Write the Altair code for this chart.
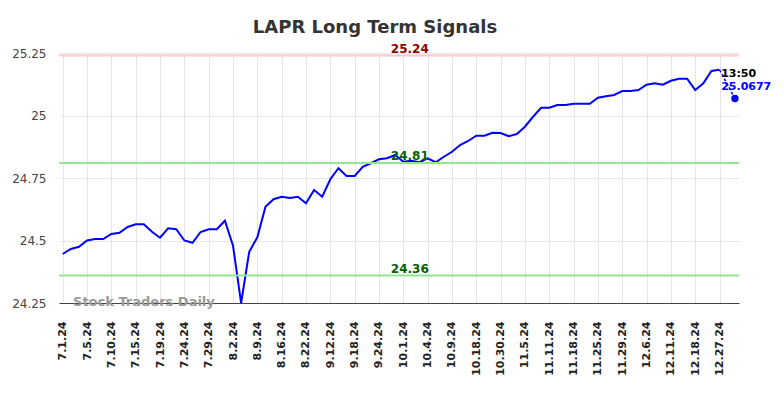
import altair as alt
import pandas as pd

# Daily closing values (trading-day index)
values = [
    24.446, 24.466, 24.475, 24.500, 24.506, 24.506, 24.526, 24.531, 24.554, 24.565,
    24.565, 24.535, 24.511, 24.549, 24.545, 24.500, 24.491, 24.534, 24.545, 24.545,
    24.579, 24.479, 24.250, 24.455, 24.513, 24.635, 24.665, 24.675, 24.670, 24.675,
    24.649, 24.702, 24.675, 24.745, 24.789, 24.758, 24.758, 24.795, 24.809, 24.825,
    24.829, 24.842, 24.815, 24.819, 24.813, 24.829, 24.813, 24.835, 24.855, 24.882,
    24.898, 24.919, 24.919, 24.931, 24.930, 24.917, 24.926, 24.955, 24.995, 25.031,
    25.031, 25.042, 25.042, 25.047, 25.047, 25.047, 25.071, 25.077, 25.082, 25.098,
    25.098, 25.102, 25.123, 25.129, 25.123, 25.139, 25.147, 25.147, 25.102, 25.129,
    25.178, 25.183,
]

tick_labels = [
    "7.1.24", "7.5.24", "7.10.24", "7.15.24", "7.19.24", "7.24.24", "7.29.24",
    "8.2.24", "8.9.24", "8.16.24", "8.22.24", "9.12.24", "9.18.24", "9.24.24",
    "10.1.24", "10.4.24", "10.9.24", "10.18.24", "10.30.24", "11.5.24", "11.11.24",
    "11.18.24", "11.25.24", "11.29.24", "12.6.24", "12.11.24", "12.18.24", "12.27.24",
]
tick_step = 3

y_tick_values = [24.25, 24.5, 24.75, 25.0, 25.25]
y_tick_labels = ["24.25", "24.5", "24.75", "25", "25.25"]

level_values = [25.24, 24.81, 24.36]
level_line_colors = ["#ffc8c8", "#90e890", "#90e890"]
level_text_colors = ["#8b0000", "#006400", "#006400"]
level_label_pos = 42.8

last_price = 25.0677
last_time = "13:50"
last_pos = 82.9

df = pd.DataFrame({"i": list(range(len(values))), "v": values})

x_scale = alt.Scale(domain=[-0.46, 83.4], nice=False, zero=False)
y_scale = alt.Scale(domain=[24.25, 25.25], nice=False, zero=False)

x_label_expr = "[" + ",".join(f"'{l}'" for l in tick_labels) + "][round(datum.value/%d)]" % tick_step
y_label_expr = "[" + ",".join(f"'{l}'" for l in y_tick_labels) + "][round((datum.value-24.25)/0.25)]"

x_axis = alt.Axis(
    values=list(range(0, len(values), tick_step)),
    labelExpr=x_label_expr,
    labelAngle=270,
    labelFont="DejaVu Sans",
    labelFontWeight="bold",
    labelFontSize=11,
    labelColor="#222222",
    labelPadding=18,
    labelOverlap=False,
    labelBound=False,
    ticks=False,
    domainColor="#444444",
    gridColor="#e6e6e6",
    title=None,
)
y_axis = alt.Axis(
    values=y_tick_values,
    labelExpr=y_label_expr,
    labelFont="DejaVu Sans",
    labelFontSize=12,
    labelColor="#444444",
    labelPadding=13,
    labelOverlap=False,
    ticks=False,
    domain=False,
    gridColor="#e6e6e6",
    title=None,
)


def xe(field="i:Q"):
    return alt.X(field, scale=x_scale, axis=x_axis)


def ye(field="v:Q"):
    return alt.Y(field, scale=y_scale, axis=y_axis)


levels_df = pd.DataFrame({
    "v": level_values,
    "lc": level_line_colors,
    "tc": level_text_colors,
    "t": [f"{v:.2f}" for v in level_values],
    "i": [level_label_pos] * len(level_values),
})

level_rules = alt.Chart(levels_df).mark_rule(strokeWidth=2).encode(
    y=ye(),
    color=alt.Color("lc:N", scale=None),
)
level_texts = alt.Chart(levels_df).mark_text(
    font="DejaVu Sans", fontWeight="bold", fontSize=12, baseline="bottom", dy=0
).encode(
    x=xe(),
    y=ye(),
    text="t:N",
    color=alt.Color("tc:N", scale=None),
)

watermark_df = pd.DataFrame({"i": [1.27], "v": [24.254], "t": ["Stock Traders Daily"]})
watermark = alt.Chart(watermark_df).mark_text(
    font="DejaVu Sans", fontWeight="bold", fontSize=13, align="left", baseline="middle",
    color="#999999",
).encode(x=xe(), y=ye(), text="t:N")

line = alt.Chart(df).mark_line(color="#0000ff", strokeWidth=2).encode(x=xe(), y=ye())

conn_df = pd.DataFrame({"i": [len(values) - 1, last_pos], "v": [values[-1], last_price]})
connector = alt.Chart(conn_df).mark_line(
    color="#0000ff", strokeWidth=1.5, strokeDash=[3, 2]
).encode(x=xe(), y=ye())

dot_df = pd.DataFrame({"i": [last_pos], "v": [last_price]})
dot = alt.Chart(dot_df).mark_point(
    filled=True, color="#0000ff", size=55, opacity=1
).encode(x=xe(), y=ye())

ann_df = pd.DataFrame({
    "i": [81.2, 81.2],
    "v": [25.166, 25.114],
    "t": [last_time, f"{last_price:.4f}"],
    "c": ["#000000", "#0000ff"],
})
ann = alt.Chart(ann_df).mark_text(
    font="DejaVu Sans", fontWeight="bold", fontSize=11, align="left", baseline="middle"
).encode(
    x=xe(), y=ye(), text="t:N",
    color=alt.Color("c:N", scale=None),
)

chart = alt.layer(
    line, level_rules, level_texts, watermark, connector, dot, ann
).properties(
    width=680,
    height=250,
    autosize=alt.AutoSizeParams(type="none"),
    padding={"left": 51, "top": 45, "right": 37, "bottom": 87},
    title=alt.TitleParams(
        "LAPR Long Term Signals",
        font="DejaVu Sans",
        fontSize=18,
        fontWeight="bold",
        color="#333333",
        anchor="middle",
        dx=-24,
        offset=6,
    ),
).configure_view(stroke=None).configure_axis(labelOverlap=False)

chart.save("out.html", embed_options={"renderer": "svg", "actions": False})
